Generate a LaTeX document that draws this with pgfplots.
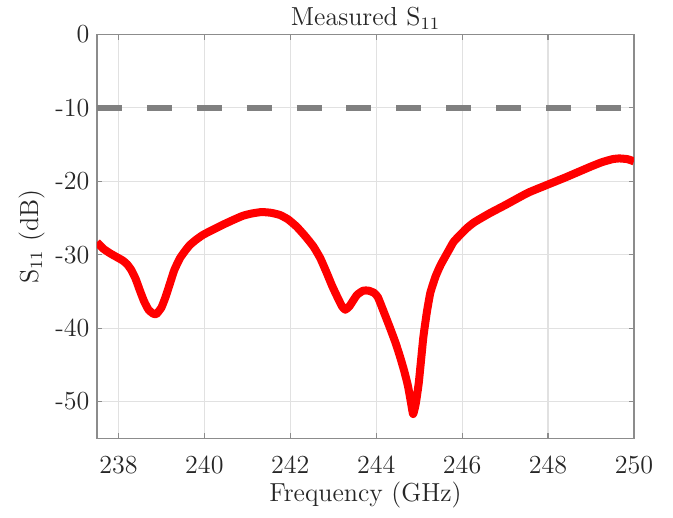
\documentclass[border=0pt]{standalone}
\usepackage{pgfplots}
\pgfplotsset{compat=1.18}
\definecolor{txt}{RGB}{38,38,38}
\definecolor{spine}{RGB}{140,140,140}
\definecolor{gridc}{RGB}{225,225,225}
\definecolor{refgray}{RGB}{128,128,128}

\begin{document}
\begin{tikzpicture}
\begin{axis}[
    name=ax,
    width=247.5pt, height=186.2pt,
    scale only axis,
    xmin=237.5, xmax=250, ymin=-55, ymax=0,
    xtick={238,240,...,250},
    ytick={-50,-40,-30,-20,-10,0},
    yticklabels={-50,-40,-30,-20,-10,0},
    tick align=inside,
    major tick length=2.5pt,
    every tick/.style={spine, line width=0.5pt},
    axis line style={spine, line width=0.6pt},
    grid=major,
    major grid style={gridc, line width=0.5pt},
    font=\large,
    tick label style={txt, font=\large},
    xticklabel style={yshift=-4.5pt},
    label style={txt, font=\large},
    title style={txt, font=\large, yshift=-7.3pt},
    title={Measured S$_{11}$},
    xlabel={Frequency (GHz)},
    ylabel={S$_{11}$ (dB)},
    xlabel style={yshift=3pt},
    ylabel style={yshift=-2pt},
    /pgf/number format/assume math mode=true,
    /pgf/number format/.cd, set thousands separator={},
]
\addplot[refgray, line width=2.8pt, dash pattern=on 11.5pt off 11.5pt] coordinates {(237.5,-10) (250,-10)};
\addplot[red, line width=3.7pt, line join=round, smooth, tension=0.3] coordinates {
(237.5,-28.3) (237.65,-29.2) (237.8,-29.8) (237.95,-30.3) (238.1,-30.8)
(238.2,-31.3) (238.3,-32.1) (238.4,-33.3) (238.5,-34.9) (238.6,-36.4)
(238.7,-37.5) (238.8,-38.0) (238.88,-38.1) (239.0,-37.2) (239.1,-35.7)
(239.2,-33.9) (239.3,-32.1) (239.43,-30.5) (239.55,-29.5) (239.66,-28.7)
(239.8,-28.0) (239.97,-27.3) (240.2,-26.6) (240.44,-25.9) (240.7,-25.2)
(240.9,-24.7) (241.1,-24.4) (241.33,-24.2) (241.55,-24.3) (241.76,-24.6)
(241.95,-25.2) (242.15,-26.2) (242.35,-27.5) (242.54,-28.9) (242.7,-30.5)
(242.85,-32.5) (242.97,-34.2) (243.09,-35.7) (243.2,-37.0) (243.28,-37.5)
(243.38,-37.0) (243.55,-35.5) (243.7,-34.9) (243.82,-34.9) (243.95,-35.2)
(244.04,-35.8) (244.15,-37.4) (244.31,-39.8) (244.45,-42.0) (244.55,-43.8)
(244.65,-45.8) (244.74,-47.9) (244.82,-50.5) (244.86,-51.7) (244.92,-50.3)
(244.99,-47.5) (245.05,-44.0) (245.10,-41.1) (245.18,-37.8) (245.26,-35.2)
(245.38,-33.0) (245.5,-31.4) (245.7,-29.3) (245.81,-28.2) (246.09,-26.5)
(246.28,-25.6) (246.63,-24.4) (247.02,-23.2) (247.3,-22.3) (247.56,-21.5)
(248.02,-20.4) (248.4,-19.5) (248.72,-18.7) (249.0,-18.0) (249.26,-17.4)
(249.5,-17.0) (249.66,-16.9) (249.85,-17.0) (250.0,-17.3)
};
\end{axis}
\path ([shift={(-44.7pt,-36.4pt)}]ax.south west) rectangle ([shift={(18pt,15.2pt)}]ax.north east);
\end{tikzpicture}
\end{document}
